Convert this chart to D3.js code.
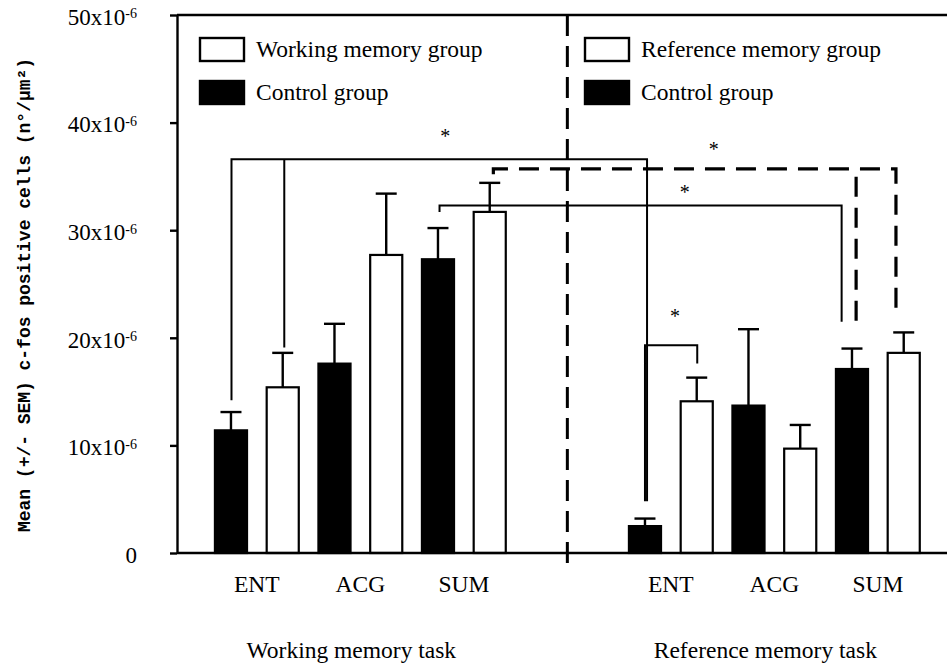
<!DOCTYPE html>
<html>
<head>
<meta charset="utf-8">
<script src="https://cdn.jsdelivr.net/npm/d3@7"></script>
<style>
  body { margin: 0; background: #fff; }
  text { font-family: "Liberation Serif", "Times New Roman", serif; fill: #000; }
</style>
</head>
<body>
<div id="chart"></div>
<script>
var tasks = ["Working memory task", "Reference memory task"];
var regions = ["ENT", "ACG", "SUM"];
var yTicks = [0, 10, 20, 30, 40, 50];

// means and SEM, in units of 10^-6 cells per µm²
var wmControl = [11.4, 17.6, 27.3], wmControlSem = [1.7, 3.7, 2.9];
var wmGroup   = [15.4, 27.7, 31.7], wmGroupSem   = [3.2, 5.7, 2.7];
var rmControl = [2.5, 13.7, 17.1],  rmControlSem = [0.7, 7.1, 1.9];
var rmGroup   = [14.1, 9.7, 18.6],  rmGroupSem   = [2.2, 2.2, 1.9];

var legendWM = ["Working memory group", "Control group"];
var legendRM = ["Reference memory group", "Control group"];

// significance brackets: legs are [slot, value], level is the bar height of the bracket
var bracketLegs   = [[[0.01, 14.2], [1.03, 19.1], [8.04, 4.8]],
                     [[8.0, 4.8], [9.01, 17.6]],
                     [[4.03, 31.7], [11.8, 21.5]],
                     [[5.07, 35.2], [12.08, 21.5], [12.85, 22.6]]];
var bracketLevels = [36.6, 19.3, 32.3, 35.7];
var bracketDashed = [false, false, false, true];
var starSlots     = [4.14, 8.58, 8.77, 9.33];
var starValues    = [39.1, 22.4, 33.9, 37.9];

var width = 947, height = 666;
var svg = d3.select("#chart").append("svg")
    .attr("width", width)
    .attr("height", height);

var axisX = 177, x0 = 170, yTop = 15, yZero = 553;

var y = d3.scaleLinear().domain([0, 50]).range([yZero, yTop]);

// 14 slots: 6 bars per task, 2 empty slots in between
var slot = d3.scaleBand().domain(d3.range(14))
    .range([205.1, 929.6])
    .paddingInner(0.38)
    .paddingOuter(0.19);
var step = slot.step();
function cx(s) { return slot(0) + slot.bandwidth() / 2 + s * step; }

// build bars table from the arrays
var panels = [
  { offset: 0, control: wmControl, controlSem: wmControlSem, group: wmGroup, groupSem: wmGroupSem },
  { offset: 8, control: rmControl, controlSem: rmControlSem, group: rmGroup, groupSem: rmGroupSem }
];
var bars = [];
panels.forEach(function(p) {
  regions.forEach(function(r, i) {
    bars.push({ slot: p.offset + 2 * i, value: p.control[i], sem: p.controlSem[i], fill: "#000" });
    bars.push({ slot: p.offset + 2 * i + 1, value: p.group[i], sem: p.groupSem[i], fill: "#fff" });
  });
});

// error bars (upper only)
var err = svg.append("g").attr("stroke", "#000").attr("stroke-width", 2.4);
err.selectAll(".stem").data(bars).enter().append("line")
    .attr("x1", function(d) { return cx(d.slot); })
    .attr("x2", function(d) { return cx(d.slot); })
    .attr("y1", function(d) { return y(d.value); })
    .attr("y2", function(d) { return y(d.value + d.sem); });
err.selectAll(".cap").data(bars).enter().append("line")
    .attr("x1", function(d) { return cx(d.slot) - 10.5; })
    .attr("x2", function(d) { return cx(d.slot) + 10.5; })
    .attr("y1", function(d) { return y(d.value + d.sem); })
    .attr("y2", function(d) { return y(d.value + d.sem); });

svg.append("g").selectAll("rect").data(bars).enter().append("rect")
    .attr("x", function(d) { return slot(d.slot); })
    .attr("y", function(d) { return y(d.value); })
    .attr("width", slot.bandwidth())
    .attr("height", function(d) { return yZero - y(d.value); })
    .attr("fill", function(d) { return d.fill; })
    .attr("stroke", "#000")
    .attr("stroke-width", 2.2);

// brackets
var br = svg.append("g").attr("fill", "none").attr("stroke", "#000");
bracketLegs.forEach(function(legs, i) {
  var lvl = y(bracketLevels[i]);
  var first = legs[0], last = legs[legs.length - 1];
  var d = "M" + cx(first[0]) + "," + y(first[1]) + "V" + lvl + "H" + cx(last[0]) + "V" + y(last[1]);
  legs.slice(1, -1).forEach(function(l) {
    d += "M" + cx(l[0]) + "," + (lvl + (bracketDashed[i] ? 8 : 0)) + "V" + y(l[1]);
  });
  br.append("path")
      .attr("d", d)
      .attr("stroke-width", bracketDashed[i] ? 3.2 : 2)
      .attr("stroke-dasharray", bracketDashed[i] ? "20,11" : null);
});
svg.append("g").selectAll("text.star").data(starSlots).enter().append("text")
    .attr("x", function(d) { return cx(d); })
    .attr("y", function(d, i) { return y(starValues[i]); })
    .attr("dy", "0.55em")
    .attr("text-anchor", "middle")
    .style("font-size", "20px")
    .text("*");

// separator between tasks
svg.append("line")
    .attr("x1", cx(6.5)).attr("x2", cx(6.5))
    .attr("y1", yTop).attr("y2", yZero + 14)
    .attr("stroke", "#000").attr("stroke-width", 3)
    .attr("stroke-dasharray", "21,10");

// frame lines
svg.append("line").attr("x1", axisX).attr("x2", width).attr("y1", yTop).attr("y2", yTop)
    .attr("stroke", "#000").attr("stroke-width", 2.4);
svg.append("line").attr("x1", axisX).attr("x2", width).attr("y1", yZero).attr("y2", yZero)
    .attr("stroke", "#000").attr("stroke-width", 2.6);

// y axis
var yAxis = svg.append("g")
    .attr("transform", "translate(" + axisX + ",0)")
    .call(d3.axisLeft(y).tickValues(yTicks).tickSize(axisX - x0).tickSizeOuter(0).tickPadding(33)
      .tickFormat(function(d) { return d === 0 ? "0" : d + "x10"; }));
yAxis.select(".domain").attr("stroke-width", 2.4);
yAxis.selectAll(".tick line").attr("stroke-width", 2.4);
yAxis.selectAll(".tick text")
    .style("font-size", "23px")
    .attr("dy", "0.4em")
    .attr("font-family", null)
    .each(function(d) {
      if (d !== 0) {
        d3.select(this).append("tspan")
            .attr("dy", "-0.45em")
            .style("font-size", "14px")
            .text("-6");
      }
    });

svg.append("text")
    .attr("transform", "translate(30,295) rotate(-90)")
    .attr("text-anchor", "middle")
    .style("font-family", "'Liberation Mono', 'DejaVu Sans Mono', monospace")
    .style("font-weight", "bold")
    .style("font-size", "18px")
    .attr("textLength", 474)
    .attr("lengthAdjust", "spacingAndGlyphs")
    .text("Mean (+/- SEM) c-fos positive cells (n°/µm²)");

// region labels and task labels
panels.forEach(function(p, k) {
  svg.append("g").selectAll("text").data(regions).enter().append("text")
      .attr("x", function(d, i) { return cx(p.offset + 2 * i + 0.5); })
      .attr("y", 592)
      .attr("text-anchor", "middle")
      .style("font-size", "23.5px")
      .text(function(d) { return d; });
  svg.append("text")
      .attr("x", cx(p.offset + 2.5) - 9)
      .attr("y", 658)
      .attr("text-anchor", "middle")
      .style("font-size", "23.5px")
      .text(tasks[k]);
});

// legends
[[199, legendWM], [584, legendRM]].forEach(function(lg) {
  var g = svg.append("g").attr("transform", "translate(" + lg[0] + ",37)");
  lg[1].forEach(function(label, i) {
    g.append("rect")
        .attr("x", 1).attr("y", i * 43 + 1)
        .attr("width", 44).attr("height", 23)
        .attr("fill", i === 0 ? "#fff" : "#000")
        .attr("stroke", "#000").attr("stroke-width", 2.4);
    g.append("text")
        .attr("x", 57).attr("y", i * 43 + 12)
        .attr("dy", "0.35em")
        .style("font-size", "23.5px")
        .text(label);
  });
});
</script>
</body>
</html>
